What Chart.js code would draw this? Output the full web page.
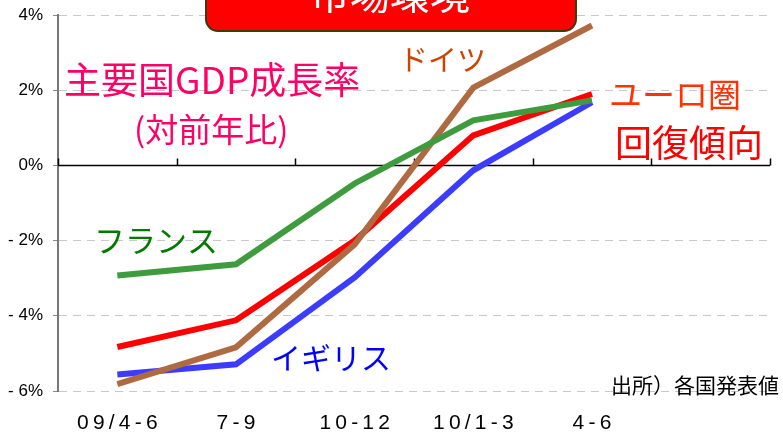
<!DOCTYPE html>
<html>
<head>
<meta charset="utf-8">
<script src="https://cdn.jsdelivr.net/npm/chart.js@4.4.0/dist/chart.umd.min.js"></script>
<style>
  html, body { margin: 0; padding: 0; background: #fff; }
  canvas { display: block; }
</style>
</head>
<body>
<canvas id="gdpChart" width="783" height="436"></canvas>
<script>
// 四半期
const quarters = ['09/4-6', '7-9', '10-12', '10/1-3', '4-6', ''];
// 各国GDP成長率（対前年比, %）
const france = [-2.93, -2.63, -0.48, 1.2, 1.73];
const euro = [-4.83, -4.12, -2.0, 0.8, 1.9];
const germany = [-5.82, -4.84, -2.1, 2.07, 3.72];
const uk = [-5.56, -5.29, -2.98, -0.13, 1.68];
const yTicks = [-6, -4, -2, 0, 2, 4];

const jpFont = '"Noto Sans CJK JP", sans-serif';

// ゼロ線と目盛、注釈テキスト
const annotate = {
    id: 'annotate',
    beforeDatasetsDraw(chart) {
        const ctx = chart.ctx;
        const x = chart.scales.x;
        const y = chart.scales.y;
        const y0 = Math.round(y.getPixelForValue(0)) + 0.5;
        ctx.save();
        ctx.strokeStyle = '#000';
        ctx.lineWidth = 1.5;
        ctx.beginPath();
        ctx.moveTo(x.left, y0);
        ctx.lineTo(x.right, y0);
        const step = (x.right - x.left) / quarters.length;
        for (let i = 0; i <= quarters.length; i++) {
            const px = Math.round(x.left + step * i) + 0.5;
            ctx.moveTo(px, y0);
            ctx.lineTo(px, y0 - 7);
        }
        ctx.stroke();
        ctx.restore();
    },
    afterDraw(chart) {
        const ctx = chart.ctx;
        ctx.save();
        // タイトルボックス
        ctx.fillStyle = '#ff0000';
        ctx.strokeStyle = '#3d3a10';
        ctx.lineWidth = 2;
        ctx.beginPath();
        ctx.roundRect(206, -20, 370, 51, 12);
        ctx.fill();
        ctx.stroke();
        ctx.fillStyle = '#fff';
        ctx.font = '40px ' + jpFont;
        ctx.textAlign = 'center';
        ctx.textBaseline = 'middle';
        ctx.fillText('市場環境', 390, -6);

        const label = (text, px, py, color, size) => {
            ctx.fillStyle = color;
            ctx.font = size + 'px ' + jpFont;
            ctx.textAlign = 'left';
            ctx.textBaseline = 'middle';
            ctx.fillText(text, px, py);
        };
        label('主要国GDP成長率', 64, 80, '#ff0066', 37);
        label('(対前年比)', 134, 129, '#ff0066', 33);
        label('ドイツ', 399, 60, '#cc4400', 29);
        label('ユーロ圏', 609, 94, '#ff3300', 33);
        label('回復傾向', 615, 143, '#ff0000', 37);
        label('フランス', 94, 240, '#007a00', 31);
        label('イギリス', 271, 358, '#0000ff', 30);
        label('出所）各国発表値', 611, 385, '#000', 21);
        ctx.restore();
    }
};

const ctx = document.getElementById('gdpChart').getContext('2d');
const gdpChart = new Chart(ctx, {
    type: 'line',
    data: {
        labels: quarters,
        datasets: [
            { label: 'フランス', data: france, borderColor: '#3e9c3e' },
            { label: 'ドイツ', data: germany, borderColor: '#b06a42' },
            { label: 'イギリス', data: uk, borderColor: '#3c3cff' },
            { label: 'ユーロ圏', data: euro, borderColor: '#ff0000' }
        ].map(d => Object.assign(d, {
            borderWidth: 6,
            pointRadius: 0,
            tension: 0,
            fill: false,
            borderCapStyle: 'butt'
        }))
    },
    options: {
        responsive: false,
        animation: false,
        layout: { padding: { top: 15, right: 13, left: 0, bottom: 0 } },
        plugins: {
            legend: { display: false },
            tooltip: { enabled: false }
        },
        scales: {
            x: {
                offset: true,
                grid: { display: false, drawTicks: false },
                border: { display: false },
                afterFit(axis) {
                    axis.height = 45;
                },
                ticks: {
                    color: '#000',
                    padding: 20,
                    maxRotation: 0,
                    autoSkip: false,
                    font: { family: 'Liberation Sans', size: 21 },
                    callback: (v, i) => quarters[i].split('').join('\u2009')
                }
            },
            y: {
                min: -6,
                max: 4,
                afterBuildTicks(axis) {
                    axis.ticks = yTicks.map(v => ({ value: v }));
                },
                afterFit(axis) {
                    axis.width = 58;
                    axis.paddingTop = 0;
                    axis.paddingBottom = 0;
                },
                grid: {
                    color: '#c8c8c8',
                    drawTicks: true,
                    tickLength: 5,
                    tickColor: '#888'
                },
                border: { display: true, color: '#777', width: 2, dash: [8, 6] },
                ticks: {
                    color: '#000',
                    padding: 10,
                    font: { family: 'Liberation Sans', size: 17 },
                    callback: v => (v < 0 ? '- ' + Math.abs(v) : v) + '%'
                }
            }
        }
    },
    plugins: [annotate]
});
</script>
</body>
</html>
